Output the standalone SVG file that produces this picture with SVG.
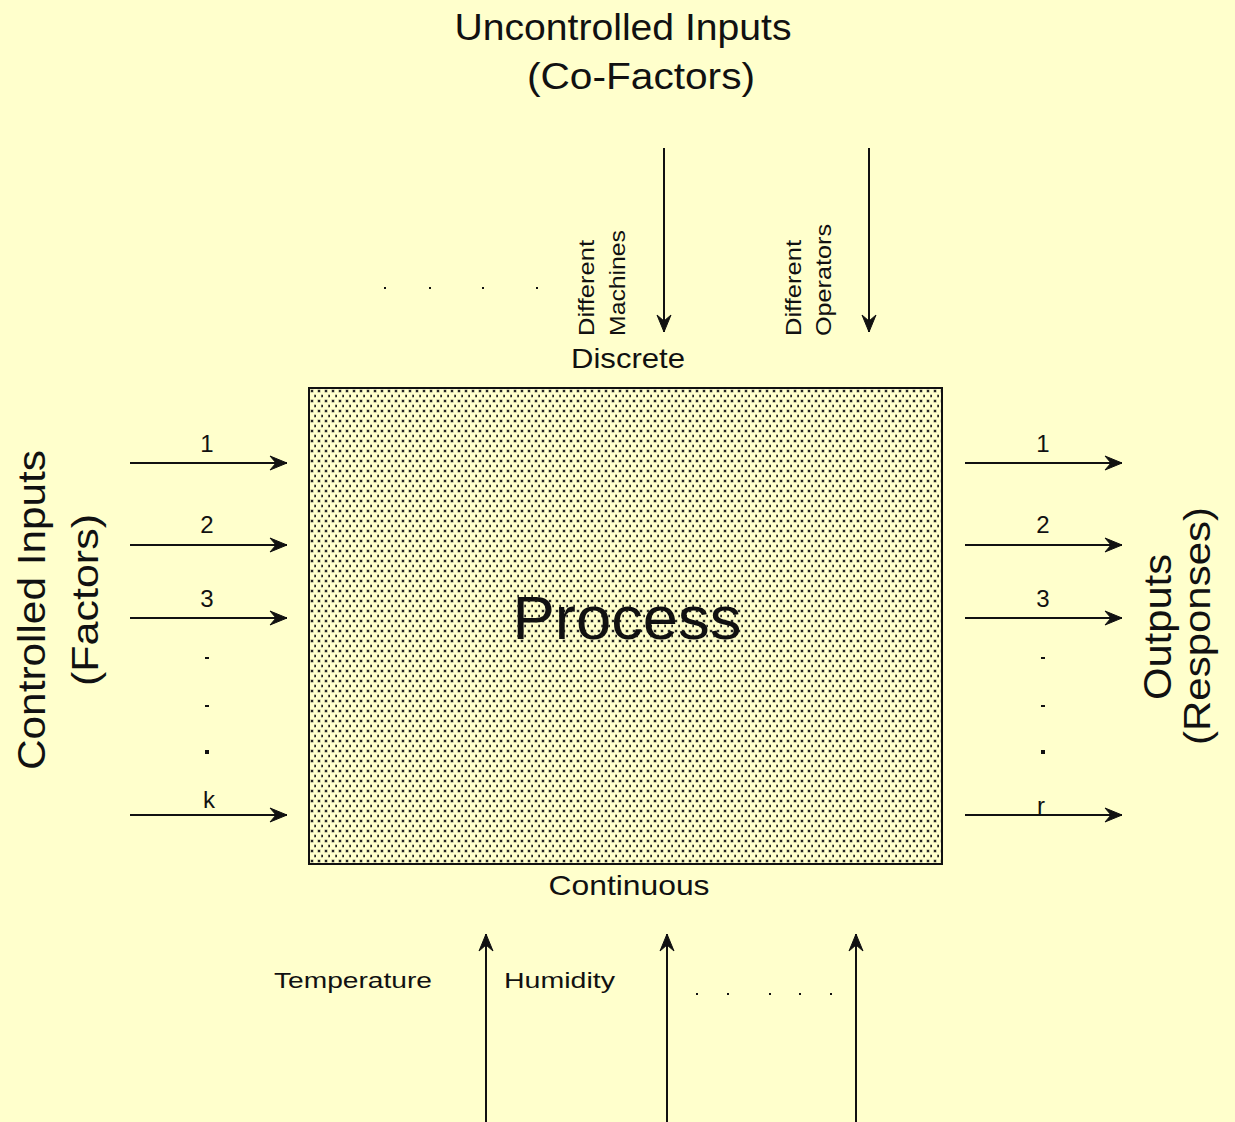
<svg xmlns="http://www.w3.org/2000/svg" width="1235" height="1122" viewBox="0 0 1235 1122">
<style>
text{font-family:"Liberation Sans",Arial,sans-serif;fill:#111}
.ln{stroke:#111;stroke-width:2;fill:none}
.num{font-size:24px;text-anchor:middle}
.dot{fill:#111}
</style>
<defs>
<pattern id="dots" width="7" height="10" patternUnits="userSpaceOnUse" x="309" y="388">
<rect x="1.5" y="1.5" width="3" height="3" fill="#9a9a80"/>
<rect x="2" y="2" width="2" height="2" fill="#222"/>
<rect x="5" y="6.5" width="3" height="3" fill="#9a9a80"/>
<rect x="5.5" y="7" width="2" height="2" fill="#222"/>
</pattern>
<marker id="ah" markerWidth="20" markerHeight="16" refX="18" refY="8" orient="auto" markerUnits="userSpaceOnUse">
<path d="M1,1 L18,8 L1,15 L7,8 Z" fill="#111" stroke="#111" stroke-width="1" stroke-linejoin="round"/>
</marker>
</defs>
<rect width="1235" height="1122" fill="#FFFFCC"/>
<g id="title">
<text x="623" y="40" font-size="36" text-anchor="middle" textLength="337" lengthAdjust="spacingAndGlyphs">Uncontrolled Inputs</text>
<text x="641" y="89" font-size="36" text-anchor="middle" textLength="228" lengthAdjust="spacingAndGlyphs">(Co-Factors)</text>
</g>
<g id="process">
<rect x="309" y="388" width="633" height="476" fill="#FFFFCC"/>
<rect x="309" y="388" width="633" height="476" fill="url(#dots)" stroke="#111" stroke-width="2"/>
<text x="627" y="639" font-size="62" text-anchor="middle" textLength="229" lengthAdjust="spacingAndGlyphs">Process</text>
<text x="628" y="368" font-size="28" text-anchor="middle" textLength="114" lengthAdjust="spacingAndGlyphs">Discrete</text>
<text x="629" y="895" font-size="28" text-anchor="middle" textLength="161" lengthAdjust="spacingAndGlyphs">Continuous</text>
</g>
<g id="controlled-inputs">
<text transform="translate(45,610) rotate(-90)" font-size="38" text-anchor="middle" textLength="320" lengthAdjust="spacingAndGlyphs">Controlled Inputs</text>
<text transform="translate(98,600) rotate(-90)" font-size="36" text-anchor="middle" textLength="172" lengthAdjust="spacingAndGlyphs">(Factors)</text>
</g>
<g id="outputs">
<text transform="translate(1171,627) rotate(-90)" font-size="38" text-anchor="middle" textLength="146" lengthAdjust="spacingAndGlyphs">Outputs</text>
<text transform="translate(1210,626) rotate(-90)" font-size="36" text-anchor="middle" textLength="238" lengthAdjust="spacingAndGlyphs">(Responses)</text>
</g>
<g id="machines">
<text transform="translate(594,336) rotate(-90)" font-size="22" textLength="96" lengthAdjust="spacingAndGlyphs">Different</text>
<text transform="translate(625,336) rotate(-90)" font-size="22" textLength="106" lengthAdjust="spacingAndGlyphs">Machines</text>
</g>
<g id="operators">
<text transform="translate(801,336) rotate(-90)" font-size="22" textLength="96" lengthAdjust="spacingAndGlyphs">Different</text>
<text transform="translate(831,336) rotate(-90)" font-size="22" textLength="112" lengthAdjust="spacingAndGlyphs">Operators</text>
</g>
<g id="temperature">
<text x="274" y="988" font-size="22" textLength="158" lengthAdjust="spacingAndGlyphs">Temperature</text>
</g>
<g id="humidity">
<text x="504" y="988" font-size="22" textLength="111" lengthAdjust="spacingAndGlyphs">Humidity</text>
</g>
<g id="connectors">
<line class="ln" x1="130" y1="463" x2="287" y2="463" marker-end="url(#ah)"/>
<line class="ln" x1="130" y1="545" x2="287" y2="545" marker-end="url(#ah)"/>
<line class="ln" x1="130" y1="618" x2="287" y2="618" marker-end="url(#ah)"/>
<line class="ln" x1="130" y1="815" x2="287" y2="815" marker-end="url(#ah)"/>
<line class="ln" x1="965" y1="463" x2="1122" y2="463" marker-end="url(#ah)"/>
<line class="ln" x1="965" y1="545" x2="1122" y2="545" marker-end="url(#ah)"/>
<line class="ln" x1="965" y1="618" x2="1122" y2="618" marker-end="url(#ah)"/>
<line class="ln" x1="965" y1="815" x2="1122" y2="815" marker-end="url(#ah)"/>
<line class="ln" x1="664" y1="148" x2="664" y2="332" marker-end="url(#ah)"/>
<line class="ln" x1="869" y1="148" x2="869" y2="332" marker-end="url(#ah)"/>
<line class="ln" x1="486" y1="1122" x2="486" y2="934" marker-end="url(#ah)"/>
<line class="ln" x1="667" y1="1122" x2="667" y2="934" marker-end="url(#ah)"/>
<line class="ln" x1="856" y1="1122" x2="856" y2="934" marker-end="url(#ah)"/>
</g>
<g id="labels">
<text class="num" x="207" y="452">1</text>
<text class="num" x="207" y="533">2</text>
<text class="num" x="207" y="607">3</text>
<text class="num" x="209" y="808">k</text>
<text class="num" x="1043" y="452">1</text>
<text class="num" x="1043" y="533">2</text>
<text class="num" x="1043" y="607">3</text>
<text class="num" x="1041" y="814">r</text>
</g>
<g id="ellipses">
<rect class="dot" x="205" y="657" width="4" height="2"/>
<rect class="dot" x="205" y="705" width="4" height="2"/>
<rect class="dot" x="205" y="750" width="4" height="4"/>
<rect class="dot" x="1041" y="657" width="4" height="2"/>
<rect class="dot" x="1041" y="705" width="4" height="2"/>
<rect class="dot" x="1041" y="750" width="4" height="4"/>
<rect class="dot" x="384" y="287" width="2" height="2"/>
<rect class="dot" x="429" y="287" width="2" height="2"/>
<rect class="dot" x="482" y="287" width="2" height="2"/>
<rect class="dot" x="536" y="287" width="2" height="2"/>
<rect class="dot" x="696" y="993" width="2" height="2"/>
<rect class="dot" x="727" y="993" width="2" height="2"/>
<rect class="dot" x="769" y="993" width="2" height="2"/>
<rect class="dot" x="799" y="993" width="2" height="2"/>
<rect class="dot" x="830" y="993" width="2" height="2"/>
</g>
</svg>
